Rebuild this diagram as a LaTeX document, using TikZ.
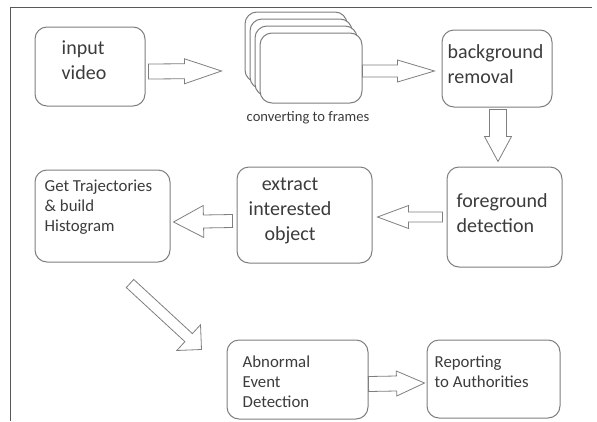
\documentclass[tikz,border=0pt]{standalone}
\usepackage{fontspec}
\setmainfont{Carlito}
\usetikzlibrary{calc}
\definecolor{boxline}{HTML}{7F7F7F}
\definecolor{txtgray}{HTML}{3C3C3C}

% block arrow: from, to, shaft half width, head half width, head length
\newcommand{\blockarrow}[5]{%
  \coordinate (hb) at ($(#2)!#5!(#1)$);
  \draw [arrowline] ($(#1)!#3!90:(#2)$) -- ($(hb)!#3!-90:(#1)$) -- ($(hb)!#4!-90:(#1)$) -- (#2)
        -- ($(hb)!#4!90:(#1)$) -- ($(hb)!#3!90:(#1)$) -- ($(#1)!#3!-90:(#2)$) -- cycle;}

\begin{document}
\begin{tikzpicture}[x=1pt, y=-1pt,
    box/.style={draw=boxline, line width=1pt, rounded corners=12pt, fill=white, inner sep=0pt},
    arrowline/.style={draw=boxline, line width=0.8pt, fill=white, line join=miter},
    bigtxt/.style={font=\fontsize{20}{25}\selectfont, text=txtgray, inner sep=0pt, align=left},
    smalltxt/.style={font=\fontsize{16.8}{20}\selectfont, text=txtgray, inner sep=0pt, align=left}]
        \useasboundingbox (0,0) rectangle (597,421);
        \draw [boxline!70!black, line width=1pt] (10,421) -- (10,7) -- (592,7);      % frame

        \node [box, minimum width=110, minimum height=79]  (input)   at (90,66.5)    {};
        \foreach \k in {3,2,1}
          \node [box, minimum width=102, minimum height=70] (frames\k) at ([shift={(-5*\k,-7*\k)}]311,68) {};
        \node [box, minimum width=102, minimum height=70]  (frames)  at (311,68)     {};
        \node [box, minimum width=110, minimum height=77]  (bgrem)   at (497,68.5)   {};
        \node [box, minimum width=115, minimum height=100] (fgdet)   at (504.5,217)  {};
        \node [box, minimum width=135, minimum height=96]  (extract) at (304.5,215)  {};
        \node [box, minimum width=135, minimum height=92]  (traj)    at (102.5,216)  {};
        \node [box, minimum width=141, minimum height=79]  (abnorm)  at (297.5,379.5) {};
        \node [box, minimum width=133, minimum height=78]  (report)  at (493.5,379)  {};

        \node [bigtxt, anchor=west]   (input-t)   at ($(input.north west)+(27,33.5)$)  {input\\ video};
        \node [font=\fontsize{14.6}{16}\selectfont, text=txtgray, inner sep=0pt]
                                      (frames-t)  at ($(frames.south)+(-3,14)$)       {converting to frames};
        \node [bigtxt, anchor=west]   (bgrem-t)   at ($(bgrem.north west)+(6,35)$)    {background\\ removal};
        \node [bigtxt, anchor=west]   (fgdet-t)   at ($(fgdet.north west)+(10,46.5)$) {foreground\\ detection};
        \node [bigtxt, align=center]  (extract-t) at ($(extract.center)+(-14.5,-4)$)  {extract\\ interested\\ object};
        \node [smalltxt, anchor=west] (traj-t)    at ($(traj.north west)+(10,38)$)    {Get Trajectories\\ \& build\\ Histogram};
        \node [smalltxt, anchor=west] (abnorm-t)  at ($(abnorm.north west)+(16,42)$)  {Abnormal\\ Event\\ Detection};
        \node [smalltxt, anchor=west] (report-t)  at ($(report.north west)+(8,32)$)   {Reporting\\ to Authorities};

        \coordinate (a1s) at ($(input.east)+(3,5)$);        \coordinate (a1e) at ($(frames.west)+(-38,3)$);
        \coordinate (a2s) at ($(frames.east)+(0,3)$);       \coordinate (a2e) at ($(bgrem.west)+(-7,2.5)$);
        \coordinate (a3s) at ($(bgrem.south)+(1,2)$);       \coordinate (a3e) at ($(fgdet.north)+(-6.5,-5)$);
        \coordinate (a4s) at ($(fgdet.west)+(-4,0)$);       \coordinate (a4e) at ($(extract.east)+(5,2)$);
        \coordinate (a5s) at ($(extract.west)+(-4,6)$);     \coordinate (a5e) at ($(traj.east)+(3,6)$);
        \coordinate (a6s) at ($(traj.south)+(27.5,21)$);    \coordinate (a6e) at ($(abnorm.north west)+(-25,10)$);
        \coordinate (a7s) at ($(abnorm.east)+(0,4.5)$);     \coordinate (a7e) at ($(report.west)+(-2,4)$);

        \blockarrow{a1s}{a1e}{7.5pt}{12.5pt}{37pt}
        \blockarrow{a2s}{a2e}{6pt}{11pt}{37pt}
        \blockarrow{a3s}{a3e}{8.5pt}{13.5pt}{25pt}
        \blockarrow{a4s}{a4e}{5pt}{11.5pt}{31pt}
        \blockarrow{a5s}{a5e}{6.5pt}{16pt}{30pt}
        \blockarrow{a6s}{a6e}{5.5pt}{17.5pt}{17.5pt}
        \blockarrow{a7s}{a7e}{7.5pt}{12.5pt}{28pt}
\end{tikzpicture}
\end{document}
